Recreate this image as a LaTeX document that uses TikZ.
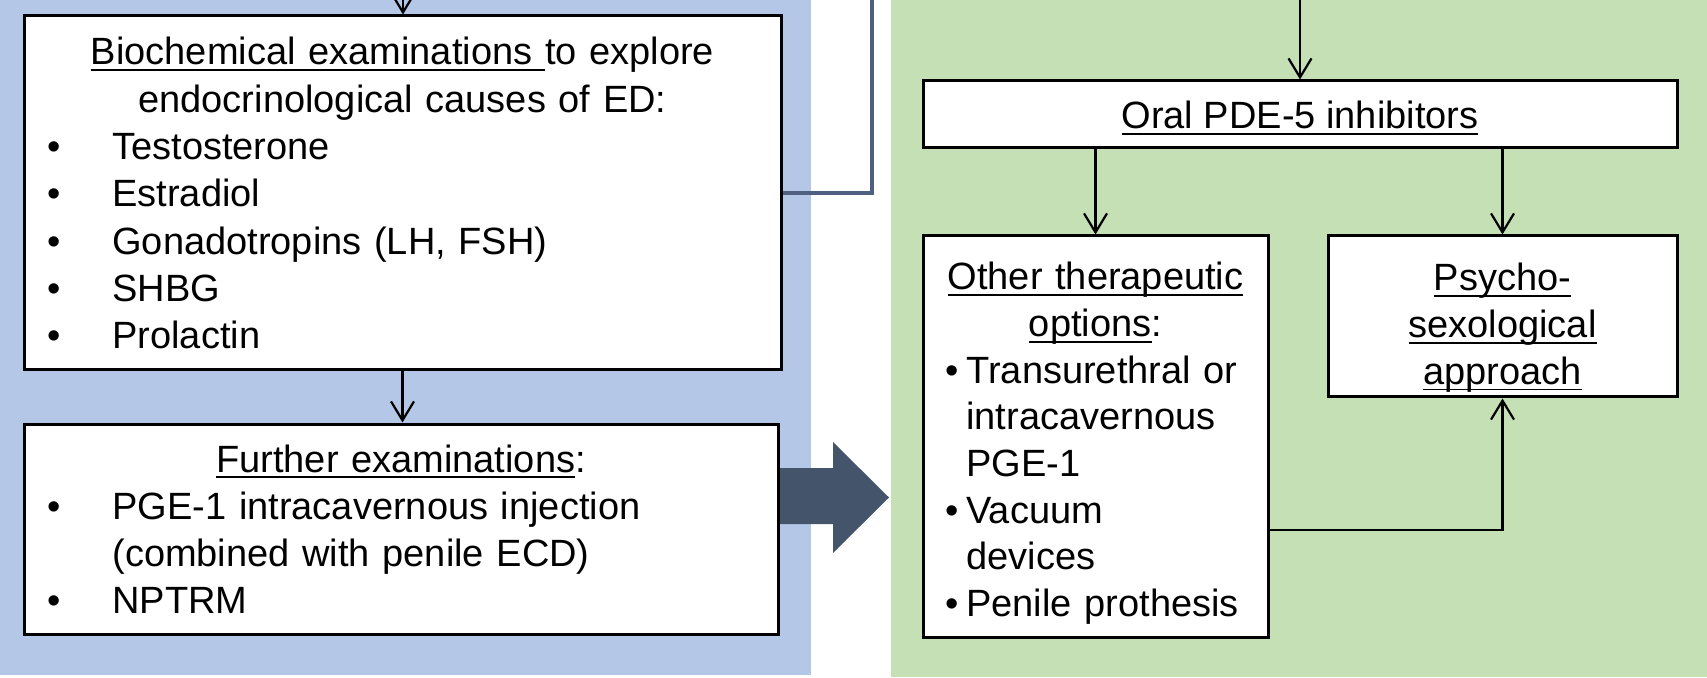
\documentclass[tikz,border=0pt]{standalone}
\usepackage{fontspec}
\setmainfont{Liberation Sans}
\usetikzlibrary{arrows.meta}
\definecolor{panelblue}{HTML}{B4C7E7}
\definecolor{panelgreen}{HTML}{C5E0B4}
\definecolor{slate}{HTML}{44546A}
\definecolor{slateline}{HTML}{4F6080}
\newsavebox{\myulbox}
\newcommand{\myul}[1]{\leavevmode\sbox{\myulbox}{#1}\rlap{\rule[-3.1pt]{\wd\myulbox}{0.9pt}}\usebox{\myulbox}}
\newcommand{\bulA}{\makebox[32.5pt][l]{\textbullet}}
\newcommand{\bulB}{\makebox[10.5pt][l]{\textbullet}}
\tikzset{
  boxnode/.style={draw=black, line width=1.5pt, fill=white, inner sep=0pt},
  txt/.style={inner sep=0pt, font=\fontsize{19}{23.65}\selectfont},
  txtr/.style={inner sep=0pt, font=\fontsize{19}{23.3}\selectfont},
  arr/.style={draw=black, line width=1.1pt, -{Straight Barb[length=9.5pt,width=11.5pt]}},
  slateconn/.style={draw=slateline, line width=2pt},
}
\begin{document}
\begin{tikzpicture}[x=0.5pt,y=-0.5pt]
\useasboundingbox (0,0) rectangle (1707,678);
% panels
\fill[panelblue] (0,0) rectangle (811,675);
\fill[panelgreen] (891,0) rectangle (1707,677);
% big arrow
\fill[slate] (762,468) -- (833,468) -- (833,442) -- (889,497.5) -- (833,553) -- (833,524) -- (762,524) -- cycle;
% boxes
\node[boxnode, minimum width=378.5pt, minimum height=177pt] (bio) at (402.5,193) {};
\node[boxnode, minimum width=377pt, minimum height=105pt] (further) at (401,529) {};
\node[boxnode, minimum width=377pt, minimum height=33.5pt] (oral) at (1300,114.5) {};
\node[boxnode, minimum width=172.5pt, minimum height=200.5pt] (other) at (1095.5,436.5) {};
\node[boxnode, minimum width=174.5pt, minimum height=80.5pt] (psycho) at (1502.5,316.5) {};
% texts
\node[txt, text width=370pt, align=center, anchor=base] (bioh) at (402.5,65)
  {\myul{Biochemical examinations }to explore\\endocrinological causes of ED:};
\node[txt, text width=340pt, align=left, anchor=base west] (biol) at (47,159.6)
  {\bulA Testosterone\\\bulA Estradiol\\\bulA Gonadotropins (LH, FSH)\\\bulA SHBG\\\bulA Prolactin};
\node[txt, text width=370pt, align=center, anchor=base] (furh) at (401,472)
  {\myul{Further examinations}:};
\node[txt, text width=360pt, align=left, anchor=base west] (furl) at (47,519.3)
  {\bulA PGE-1 intracavernous injection\\\hspace*{32.5pt}(combined with penile ECD)\\\bulA NPTRM};
\node[txt, anchor=base] (oralt) at (1300,129) {\myul{Oral PDE-5 inhibitors}};
\node[txtr, text width=170pt, align=center, anchor=base] (othh) at (1095.5,290)
  {\myul{Other therapeutic}\\\myul{options}:};
\node[txtr, text width=175pt, align=left, anchor=base west] (othl) at (945,383.2)
  {\bulB Transurethral or\\\hspace*{10.5pt}intracavernous\\\hspace*{10.5pt}PGE-1\\\bulB Vacuum\\\hspace*{10.5pt}devices\\\bulB Penile prothesis};
\node[txtr, text width=170pt, align=center, anchor=base] (psyt) at (1502.5,291)
  {\myul{Psycho-}\\\myul{sexological}\\\myul{approach}};
% connectors
\coordinate (topL) at (403,0);
\coordinate (topR) at (872,0);
\coordinate (topO) at (1300,0);
\draw[arr] (topL) -- (topL |- bio.north);
\draw[arr] (bio.south) -- (bio.south |- further.north);
\draw[slateconn] (bio.east) -| (topR);
\draw[arr] (topO) -- (oral.north);
\draw[arr] (oral.south -| other.north) -- (other.north);
\draw[arr] (oral.south -| psycho.north) -- (psycho.north);
\draw[arr] ([yshift=-46.75pt]other.east) -| (psycho.south);
\end{tikzpicture}
\end{document}
